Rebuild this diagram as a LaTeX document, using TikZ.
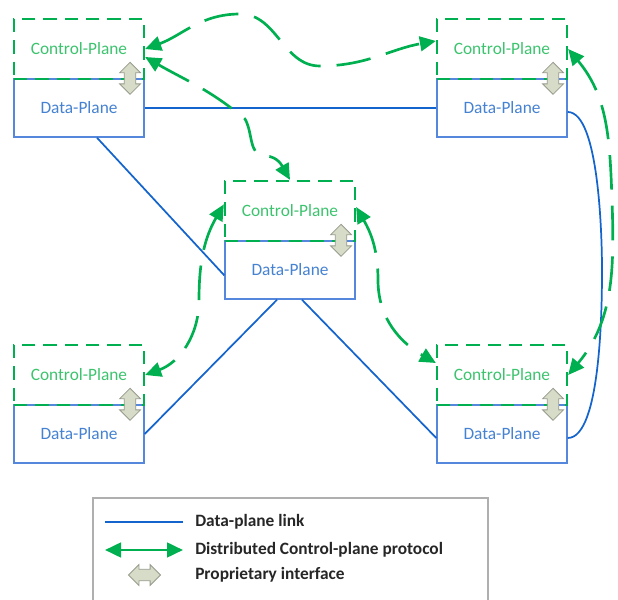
\documentclass[tikz,border=0pt]{standalone}
\usepackage{fontspec}
\setmainfont{Carlito}
\usetikzlibrary{arrows.meta,shapes.arrows}

\definecolor{cpgreen}{RGB}{0,176,80}
\definecolor{cptext}{RGB}{60,195,110}
\definecolor{dpblue}{RGB}{20,100,205}
\definecolor{dpbox}{RGB}{85,135,220}
\definecolor{dptext}{RGB}{70,130,210}
\definecolor{propfill}{RGB}{215,220,200}
\definecolor{propdraw}{RGB}{150,155,140}
\definecolor{leggrey}{RGB}{175,175,175}

\tikzset{
  cplane/.style={draw=cpgreen, line width=1.7pt, dash pattern=on 10pt off 6pt,
    minimum width=97.5pt, minimum height=45pt, inner sep=0pt,
    text=cptext, font=\fontsize{13}{15}\selectfont},
  dplane/.style={draw=dpbox, line width=1.1pt, fill=white,
    minimum width=97.5pt, minimum height=43.5pt, inner sep=0pt,
    text=dptext, font=\fontsize{13}{15}\selectfont},
  propif/.style={double arrow, draw=propdraw, fill=propfill, line width=0.6pt,
    minimum height=24pt, inner xsep=0pt, inner ysep=4pt,
    double arrow head extend=3.5pt},
  dplink/.style={draw=dpblue, line width=1.3pt},
  cpproto/.style={draw=cpgreen, line width=2pt, dash pattern=on 26pt off 12pt,
    {Triangle[length=12pt,width=11pt]}-{Triangle[length=12pt,width=11pt]}},
  legtext/.style={anchor=west, inner sep=0pt, text=black!85,
    font=\fontsize{13}{15}\selectfont\bfseries}
}

\begin{document}
\begin{tikzpicture}[x=0.75pt,y=0.75pt]
  \useasboundingbox (0,0) rectangle (618,600);

  \begin{scope}[every node/.style={dplane}]
    \node (d1) at (79,492)  {Data-Plane};
    \node (d2) at (502,492) {Data-Plane};
    \node (d3) at (290,330) {Data-Plane};
    \node (d4) at (79,166)  {Data-Plane};
    \node (d5) at (502,166) {Data-Plane};
  \end{scope}

  \begin{scope}[every node/.style={cplane}]
    \node (c1) at (79,551)  {Control-Plane};
    \node (c2) at (502,551) {Control-Plane};
    \node (c3) at (290,389) {Control-Plane};
    \node (c4) at (79,225)  {Control-Plane};
    \node (c5) at (502,225) {Control-Plane};
  \end{scope}

  \begin{scope}[every node/.style={propif, rotate=90}]
    \node (p1) at ([xshift=-11pt]d1.north east) {};
    \node (p2) at ([xshift=-11pt]d2.north east) {};
    \node (p3) at ([xshift=-11pt]d3.north east) {};
    \node (p4) at ([xshift=-11pt]d4.north east) {};
    \node (p5) at ([xshift=-11pt]d5.north east) {};
  \end{scope}

  \draw[dplink] (d1) -- (d2);
  \draw[dplink] ([xshift=13.5pt]d1.south) -- ([yshift=-4pt]d3.west);
  \draw[dplink] ([xshift=-9.75pt]d3.south) -- (d4.east);
  \draw[dplink] ([xshift=9pt]d3.south) -- ([yshift=-3pt]d5.west);
  \draw[dplink] ([yshift=-3pt]d2.east) to[out=0,in=90,looseness=0.5] (602,330)
    to[out=-90,in=0,looseness=0.5] ([yshift=-3pt]d5.east);

  \draw[cpproto] (c1.east) to[out=20,in=180] (240,586) to[out=0,in=180] (320,534)
    to[out=0,in=190] ([yshift=6pt]c2.west);
  \draw[cpproto] ([yshift=-6pt]c1.east) to[out=-30,in=140] (245,481)
    to[out=-60,in=180] (265,444) to[out=0,in=120] (c3.north);
  \draw[cpproto] (c2.east) to[out=-50,in=92] (612,400) to[out=-88,in=50] (c5.east);
  \draw[cpproto] ([yshift=5pt]c3.west) to[out=240,in=90] (199,300)
    to[out=-90,in=20] (c4.east);
  \draw[cpproto] ([yshift=3pt]c3.east) to[out=-60,in=90] (378,320)
    to[out=-90,in=150] ([yshift=9pt]c5.west);

  \draw[leggrey, line width=2pt] (93,-10) rectangle (488,102);
  \coordinate (la) at (105,78);
  \coordinate (lb) at (183,78);
  \coordinate (lc) at (105,50);
  \coordinate (ld) at (183,50);
  \draw[dplink] (la) -- (lb);
  \draw[cpproto, solid] (lc) -- (ld);
  \node[propif] (p6) at (144.5,25) {};
  \node[legtext] (t1) at (195,78) {Data-plane link};
  \node[legtext] (t2) at (195,50) {Distributed Control-plane protocol};
  \node[legtext] (t3) at (195,25) {Proprietary interface};

\end{tikzpicture}
\end{document}
